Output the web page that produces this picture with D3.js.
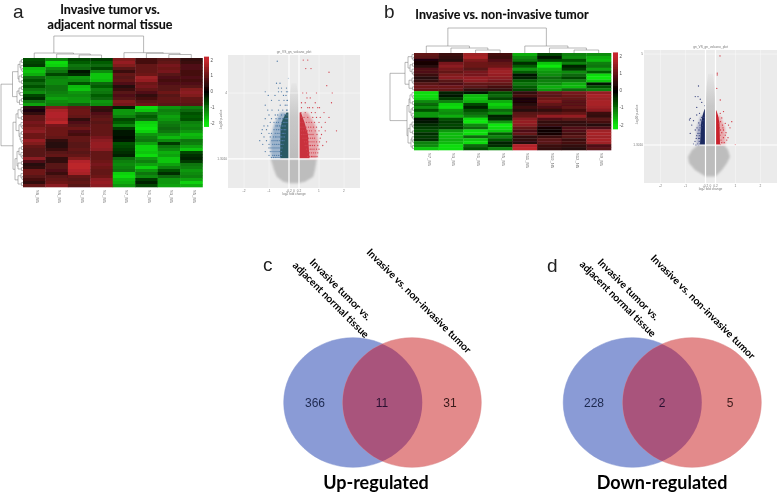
<!DOCTYPE html>
<html><head><meta charset="utf-8">
<script src="https://cdn.jsdelivr.net/npm/d3@7"></script>
<style>html,body{margin:0;padding:0;background:#fff;overflow:hidden}svg{display:block}</style>
</head><body><svg id="c" width="778" height="494"></svg>
<script>
// ---------- Data ----------
const colsA = ["S8_N5","S6_N5","S2_N5","S4_N5","S7_N5","S1_N5","S3_N5","S5_N5"];
const colsB = ["S7_N5","S3_N5","S1_N5","S5_N5","S11_N5","S10_N5","S12_N5","S9_N5"];
const heatA = [
[-0.7,-1.1,-0.6,-0.5,1.3,0.7,0.9,0.5],[-0.6,-1.9,-0.8,-0.8,1.5,0.7,1.0,0.6],[-0.5,-1.8,-1.0,-0.9,1.3,1.0,1.2,0.8],
[-1.6,-1.2,-0.9,-0.6,0.9,1.0,1.1,0.8],[-1.7,-1.0,-0.2,-1.2,0.6,1.0,1.2,0.7],[-1.5,-0.6,-0.4,-1.7,1.0,1.1,0.9,0.7],
[-0.9,-1.1,-1.3,-1.7,0.9,1.6,0.8,0.8],[-0.7,-1.2,-1.2,-1.6,1.0,1.5,0.7,0.7],[-0.9,-1.2,-0.7,-0.9,0.8,1.1,0.8,0.8],
[-0.7,-1.0,-1.6,-0.8,0.4,1.2,0.9,0.9],[-1.0,-1.0,-1.7,-1.1,0.6,1.0,0.9,1.3],[-1.2,-1.1,-1.3,-1.0,0.9,0.8,1.1,1.4],
[-0.6,-1.2,-1.2,-0.8,0.8,0.5,0.9,1.3],[-0.4,-1.4,-1.3,-0.9,0.9,0.7,1.0,1.0],[-1.0,-1.2,-1.3,-1.3,1.3,0.9,1.0,1.0],
[-1.4,-1.1,-0.9,-1.2,1.2,1.1,0.9,0.9],
[0.4,1.3,1.0,0.6,-0.3,-1.9,-1.3,-1.1],[0.3,1.7,1.1,0.5,-1.3,-1.7,-1.1,-0.9],[0.5,1.8,1.1,0.8,-1.3,-1.0,-1.2,-0.7],
[1.0,1.8,1.0,0.9,-1.1,-0.8,-1.4,-0.8],[1.0,1.7,0.5,1.0,-0.6,-0.9,-1.3,-0.7],[1.2,1.9,0.8,0.9,-0.8,-1.8,-1.1,-1.1],
[1.1,1.2,0.9,1.0,-1.1,-1.9,-1.0,-1.2],[1.3,1.1,1.1,1.0,-0.5,-2.0,-0.9,-1.1],[1.4,1.1,0.8,1.0,-0.2,-1.8,-1.0,-1.3],
[1.1,1.1,0.7,1.0,-0.2,-1.3,-1.3,-1.6],[1.1,1.0,1.0,1.2,-0.1,-1.1,-1.6,-1.5],[1.5,0.5,1.0,1.4,-0.2,-1.0,-1.2,-1.0],
[1.3,0.4,0.9,1.5,-0.7,-1.4,-0.5,-1.1],[1.0,0.4,0.9,1.5,-0.6,-1.8,-1.0,-1.4],[0.9,0.6,1.0,1.4,-0.5,-1.8,-1.2,-1.7],
[0.9,0.9,0.9,1.0,-0.4,-1.7,-1.5,-0.6],[0.9,1.0,1.0,1.0,-0.3,-1.9,-1.4,-0.4],[1.4,0.5,1.3,1.0,-0.9,-1.3,-1.7,-0.3],
[0.8,0.5,1.8,1.1,-1.1,-1.1,-1.7,-0.5],[0.4,0.9,1.9,1.2,-1.2,-1.4,-1.4,-1.0],[0.5,0.9,1.9,1.1,-1.1,-1.8,-1.1,-1.1],
[1.1,0.8,1.8,1.0,-1.0,-1.3,-0.7,-1.3],[1.1,0.6,1.7,1.0,-1.8,-1.0,-0.4,-1.2],[0.9,0.9,1.0,1.1,-1.9,-1.2,-0.9,-1.1],
[0.7,1.0,0.9,1.4,-1.6,-0.5,-1.3,-1.4],[0.5,1.1,1.0,1.5,-1.5,-0.3,-1.3,-1.8],[1.0,1.4,0.9,1.4,-1.3,-0.6,-1.4,-1.5]];
const heatB = [
[1.0,0.6,1.6,0.7,-1.5,-0.6,-1.1,-1.2],[0.9,0.5,1.7,0.6,-1.2,-0.2,-1.2,-1.5],[0.3,0.4,1.3,0.8,-1.0,-0.6,-0.7,-1.6],
[0.2,1.2,1.1,1.0,-0.4,-1.7,-1.1,-1.1],[0.4,1.4,1.1,1.1,-0.8,-2.0,-0.3,-1.0],[0.8,1.2,0.9,1.5,-1.3,-1.5,-0.5,-1.4],
[0.8,1.0,1.2,1.6,-0.8,-1.3,-1.2,-0.8],[0.6,1.3,1.2,1.5,-0.2,-1.2,-0.9,-1.9],[0.4,1.4,1.5,1.4,-0.3,-0.9,-0.6,-2.0],
[0.5,0.9,1.4,1.2,-0.8,-1.1,-1.1,-1.7],[0.9,0.8,1.0,1.0,-1.0,-1.2,-1.5,-0.2],[1.1,1.1,0.9,0.7,-0.8,-1.5,-1.6,-0.7],
[1.0,1.0,0.5,0.5,-0.6,-1.3,-0.9,-1.1],
[-1.9,-0.3,-0.2,-0.7,0.5,1.0,1.2,1.5],[-1.9,-0.2,-1.6,-0.9,0.7,0.9,1.1,1.7],[-1.8,-0.5,-1.7,-0.6,0.3,1.1,1.0,1.6],
[-1.2,-1.1,-1.5,-1.5,0.3,1.3,0.9,1.7],[-0.9,-1.8,-0.6,-1.8,0.4,1.0,0.9,1.7],[-1.2,-1.9,-0.3,-1.6,0.6,0.8,1.0,1.6],
[-0.7,-1.3,-0.7,-0.9,0.4,0.5,0.7,1.4],[-1.3,-1.2,-0.9,-1.2,0.9,0.9,1.0,0.6],[-1.3,-1.5,-1.1,-0.3,1.0,1.5,1.5,0.5],
[-0.1,-0.7,-1.9,-0.4,1.4,0.8,0.9,0.9],[-0.2,-0.5,-2.0,-1.3,1.5,0.5,0.5,0.7],[-0.4,-0.6,-1.2,-2.0,1.4,0.6,0.5,0.4],
[-0.5,-0.5,-0.9,-1.9,1.0,0.2,0.8,0.8],[-0.7,-1.3,-1.9,-1.7,0.8,0.1,0.8,1.6],[-0.4,-1.6,-1.9,-0.8,1.0,0.2,0.7,1.7],
[-0.5,-1.6,-0.9,-1.1,0.5,0.6,0.9,1.6],[-0.4,-1.5,-1.7,-0.7,0.5,0.9,0.6,1.7],[-1.1,-1.6,-1.9,-0.3,0.4,0.9,0.7,1.6],
[-1.2,-1.9,-0.9,-0.4,1.8,0.6,0.5,0.8],[-1.7,-1.9,-0.7,-1.1,1.9,0.5,0.4,0.9]];
const colorTicks = [2,1,0,-1,-2];
// dendrograms: [height, left, right]; 0 is a leaf, taken in display order
const P2 = [1.5,0,0], P3 = [2,0,[1,0,0]];
const colTreeA = [22,[5,0,[4,0,[3,0,0]]],[5.3,0,[4.7,0,[3.5,0,0]]]];
const colTreeB = [25,[7,0,[5,0,[3,0,0]]],[7,0,[5,0,[3,0,0]]]];
const rowTreeA = [22,
  [10.5,[5,[3,P2,[2,0,[1,0,0]]],[4,P2,P2]],[6,[4,P2,[3,0,0]],[3.5,P2,0]]],
  [10,[7,[5,P3,P2],[4,P3,[3,P2,P3]]],[8,[6,[4,P2,P3],[5,P2,P2]],[5,P3,P2]]]];
const rowTreeB = [24,
  [9,[6,P3,[4,P2,P3]],[5,P3,P2]],
  [7,[5,[4,P3,P2],[3,P2,P3]],[6,[4,P3,P2],[3,P3,P2]]]];
// volcano A: [-log10 p, x0, x1] envelopes
const greyLowA = [[0.3,-0.15,0.15],[0.37,-0.43,0.44],[0.57,-0.69,0.77],[0.85,-0.8,0.84],[1.3,-0.93,0.91]];
const greyTopA = [[1.3,-0.2,0.2],[3.0,-0.2,0.2],[3.9,-0.17,0.17],[4.4,-0.1,0.1]];
const denseDownA = [[1.3,-0.56,-0.2],[2.6,-0.54,-0.2],[2.9,-0.46,-0.2],[3.2,-0.3,-0.2]];
const denseUpA = [[1.3,0.62,0.2],[2.3,0.56,0.2],[2.8,0.42,0.2],[3.2,0.28,0.2]];
const haloDownA = [[1.3,-0.9,-0.5],[2.0,-0.95,-0.5],[2.7,-0.8,-0.4],[3.2,-0.55,-0.3]];
const haloUpA = [[1.3,0.92,0.5],[2.0,0.98,0.5],[2.7,0.85,0.4],[3.2,0.55,0.3]];
const downA = [[5.3,[-0.67]],[4.6,[-0.22]],[4.4,[-0.7,-0.56]],[4.2,[-0.62,-0.5,-0.3]],[4.05,[-1.15,-0.62,-0.5,-0.3,-0.25]],
[3.9,[-1.03,-0.76,-0.42,-0.32]],[3.7,[-0.9,-0.6,-0.4,-0.28,-0.26]],[3.5,[-1.15,-0.55,-0.35,-0.28]],[3.3,[-1.05,-0.88,-0.62,-0.45,-0.3,-0.27]],
[3.1,[-1.0,-0.75,-0.65,-0.5,-0.38,-0.28]],[2.95,[-1.15,-0.9,-0.72,-0.6,-0.55,-0.45,-0.35,-0.3,-0.26]],[2.8,[-0.95,-0.8,-0.7,-0.62,-0.5,-0.42,-0.37,-0.32,-0.28]],
[2.65,[-1.2,-1.05,-0.72,-0.66,-0.58,-0.52,-0.46,-0.4,-0.35]],[2.5,[-1.27,-1.1,-0.8,-0.7,-0.62,-0.55,-0.5,-0.44,-0.38,-0.33]],
[2.35,[-1.3,-1.0,-0.9,-0.75,-0.67,-0.6,-0.54,-0.47,-0.42,-0.36]],[2.2,[-1.2,-0.95,-0.82,-0.74,-0.68,-0.6,-0.55,-0.5,-0.44,-0.38]],
[2.05,[-1.37,-1.1,-0.88,-0.8,-0.72,-0.65,-0.57,-0.52,-0.46,-0.4]],[1.9,[-1.25,-1.0,-0.85,-0.77,-0.7,-0.63,-0.56,-0.5,-0.44]],
[1.75,[-1.0,-0.92,-0.84,-0.76,-0.68,-0.6,-0.54,-0.48]],[1.6,[-1.15,-0.95,-0.88,-0.8,-0.72,-0.64,-0.57,-0.5]],
[1.45,[-1.0,-0.85,-0.78,-0.7,-0.62,-0.55,-0.5]],[1.35,[-0.9,-0.82,-0.75,-0.68,-0.6,-0.54]]];
const upA = [[5.35,[0.37,0.55]],[5.0,[0.47,0.68]],[4.85,[1.4]],[4.3,[1.31]],[4.0,[0.35,0.5,0.9,1.53]],[3.8,[0.52,0.65]],[3.6,[0.3,0.45,0.85,1.5]],
[3.4,[0.3,0.55,0.62,0.75,0.95,1.02]],[3.2,[0.28,0.45,0.7,0.85,1.2]],[3.0,[0.3,0.4,0.55,0.75,0.9,1.05,1.4]],[2.8,[0.27,0.35,0.5,0.6,0.7,0.82,1.0,1.25]],
[2.6,[0.26,0.32,0.4,0.48,0.58,0.67,0.78,0.9,1.1]],[2.45,[0.3,0.38,0.46,0.54,0.62,0.7,0.85,1.0,1.25,1.7]],[2.3,[0.3,0.37,0.44,0.52,0.6,0.68,0.76,0.92,1.1]],
[2.15,[0.36,0.44,0.5,0.58,0.66,0.74,0.82,1.05]],[2.0,[0.42,0.5,0.58,0.64,0.72,0.8,0.9,1.02,1.3]],[1.85,[0.45,0.52,0.6,0.66,0.74,0.82,0.95,1.15]],
[1.7,[0.5,0.58,0.65,0.72,0.8,0.9,1.0]],[1.55,[0.55,0.62,0.7,0.78,0.86,0.95]],[1.4,[0.55,0.62,0.7,0.76,0.84,0.92]]];
// volcano B
const greyLowB = [[0.02,-0.2,0.2],[0.28,-0.62,0.46],[0.57,-0.86,0.66],[0.82,-0.9,0.78],[1.1,-0.74,0.7],[1.3,-0.5,0.55]];
const greyTopB = [[1.3,-0.2,0.2],[2.85,-0.2,0.2],[3.66,-0.16,0.16],[4.2,-0.1,0.1]];
const denseDownB = [[1.3,-0.42,-0.2],[2.2,-0.38,-0.2],[2.5,-0.32,-0.2],[2.75,-0.24,-0.2]];
const denseUpB = [[1.3,0.38,0.2],[2.2,0.36,0.2],[2.5,0.3,0.2],[2.7,0.24,0.2]];
const haloDownB = [[1.3,-0.55,-0.4],[2.0,-0.55,-0.35],[2.5,-0.38,-0.3]];
const haloUpB = [[1.3,0.6,0.35],[2.0,0.58,0.33],[2.5,0.38,0.28]];
const downB = [[3.7,[-0.48]],[3.27,[-0.61,-0.5]],[3.16,[-0.41]],[3.03,[-0.35]],[2.9,[-0.22]],[2.83,[-0.55]],[2.59,[-0.28,-0.44]],[2.52,[-0.55]],[2.42,[-0.35,-0.27]],
[2.38,[-0.81]],[2.32,[-0.84,-0.4]],[2.29,[-0.68,-0.3]],[2.2,[-0.47,-0.36]],[2.11,[-0.75,-0.42,-0.32]],[2.0,[-0.54,-0.42,-0.35]],[1.91,[-0.61,-0.46]],
[1.77,[-0.81,-0.5,-0.42]],[1.68,[-0.55,-0.45]],[1.57,[-0.57,-0.47,-0.43]],[1.45,[-0.62,-0.45]],[1.34,[-0.68,-0.52,-0.44]],[1.3,[-0.6,-0.55,-0.47]]];
const upB = [[4.92,[0.38]],[4.22,[0.27]],[4.15,[0.27]],[3.6,[0.25]],[3.13,[0.39]],[2.66,[0.52]],[2.59,[0.39]],[2.4,[0.3,0.45]],[2.25,[0.85,0.4]],[2.18,[0.59,0.32]],
[2.11,[0.72,0.48]],[2.0,[0.78,0.36,0.5]],[1.91,[0.52,0.4]],[1.8,[0.45,0.62]],[1.7,[0.59,0.38]],[1.6,[0.52,0.7]],[1.5,[0.65,0.42]],[1.4,[0.45,0.55]],[1.32,[0.4,0.99]]];
const volcanoXTicks = [-2,-1,-0.2,0,0.2,1,2];
const majorXTicks = [-2,-1,1,2];
// Venn
const vennSets = ["Invasive tumor vs.","adjacent normal tissue","Invasive vs. non-invasive tumor"];
const vennC = [366,11,31];
const vennD = [228,2,5];

// ---------- Drawing ----------
const svg = d3.select("#c");
const defs = svg.append("defs");
function blur(id,s){ defs.append("filter").attr("id",id).attr("x","-20%").attr("y","-20%").attr("width","140%").attr("height","140%")
  .append("feGaussianBlur").attr("stdDeviation",s); }
blur("soft",0.55); blur("softer",0.35); blur("fuzz",0.9);
const fade = defs.append("linearGradient").attr("id","fade").attr("x1",0).attr("y1",1).attr("x2",0).attr("y2",0);
fade.append("stop").attr("offset",0).attr("stop-color","#bcbcbc");
fade.append("stop").attr("offset",0.55).attr("stop-color","#c8c8c8");
fade.append("stop").attr("offset",1).attr("stop-color","#e6e6e6");
const SANS = "'Liberation Sans',Arial,sans-serif", LATO = "Lato,'Open Sans',sans-serif";
const heatColor = d3.scaleLinear().domain([-2,0,2]).range(["#10e810","#000000","#c6282e"]).clamp(true);

function dendro(g, tree, leafPos, hScale, vertical){
  let idx = 0; const p = d3.path();
  (function walk(n){
    if(n===0) return {pos:leafPos(idx++), h:0};
    const a = walk(n[1]), b = walk(n[2]), H = hScale(n[0]);
    if(vertical){ p.moveTo(a.pos,hScale(a.h)); p.lineTo(a.pos,H); p.lineTo(b.pos,H); p.lineTo(b.pos,hScale(b.h)); }
    else { p.moveTo(hScale(a.h),a.pos); p.lineTo(H,a.pos); p.lineTo(H,b.pos); p.lineTo(hScale(b.h),b.pos); }
    return {pos:(a.pos+b.pos)/2, h:n[0]};
  })(tree);
  g.append("path").attr("d",p.toString()).attr("fill","none").attr("stroke","#7d7d7d").attr("stroke-width",0.55);
}

function heatmap(o){
  const g = svg.append("g").attr("filter","url(#soft)");
  const x = d3.scaleBand().domain(o.cols).range([o.x0,o.x1]);
  const y = d3.scaleBand().domain(d3.range(o.data.length)).range([o.y0,o.y1]);
  o.data.forEach((row,r)=>{
    g.selectAll(null).data(row).join("rect")
      .attr("x",(d,i)=>x(o.cols[i])).attr("y",y(r))
      .attr("width",x.bandwidth()+0.3).attr("height",y.bandwidth()+0.3)
      .attr("fill",d=>heatColor(d));
  });
  dendro(g,o.colTree,i=>x(o.cols[i])+x.bandwidth()/2,d3.scaleLinear().domain([0,1]).range([o.y0,o.y0-1]),true);
  dendro(g,o.rowTree,i=>y(i)+y.bandwidth()/2,d3.scaleLinear().domain([0,1]).range([o.x0,o.x0-1]),false);
  const cy = d3.scaleLinear().domain([2,-2]).range([o.barY0,o.barY1]);
  const nb = d3.range(-2.15,2.151,0.1);
  g.selectAll(null).data(nb).join("rect").attr("x",o.barX).attr("width",5)
    .attr("y",d=>cy(d)-1).attr("height",(cy(-2)-cy(2))/40+1).attr("fill",d=>heatColor(d));
  const t = svg.append("g").attr("filter","url(#softer)").attr("font-family",SANS).attr("fill","#555");
  t.selectAll(null).data(colorTicks).join("text").attr("x",o.barX+6.5).attr("y",d=>cy(d)+1.6)
    .attr("font-size",4.5).text(d=>d);
  t.selectAll(null).data(o.cols).join("text")
    .attr("transform",c=>`translate(${x(c)+x.bandwidth()/2+1.5},${o.y1+3}) rotate(90)`)
    .attr("font-size",4.2).attr("fill","#777").text(c=>c);
}
heatmap({cols:colsA,data:heatA,colTree:colTreeA,rowTree:rowTreeA,x0:23,x1:202.5,y0:58,y1:187,barX:204,barY0:60,barY1:123});
heatmap({cols:colsB,data:heatB,colTree:colTreeB,rowTree:rowTreeB,x0:414,x1:611,y0:53,y1:150,barX:613,barY0:56,barY1:125});

function volcano(o){
  const x = d3.scaleLinear().domain([-1,1]).range([o.cx-25,o.cx+25]);
  const y = d3.scaleLinear().domain(o.yDom).range(o.yRange);
  const g = svg.append("g").attr("filter","url(#softer)");
  g.append("rect").attr("x",o.x0).attr("y",o.y0).attr("width",o.x1-o.x0).attr("height",o.y1-o.y0).attr("fill","#ebebeb");
  g.selectAll(null).data(majorXTicks).join("line").attr("x1",d=>x(d)).attr("x2",d=>x(d)).attr("y1",o.y0).attr("y2",o.y1)
    .attr("stroke","#f7f7f7").attr("stroke-width",0.6);
  const area = d3.area().y(d=>y(d[0])).x0(d=>x(d[1])).x1(d=>x(d[2]));
  g.append("path").attr("d",area(o.greyLow)).attr("fill","#bdbdbd").attr("filter","url(#fuzz)");
  g.append("path").attr("d",area(o.greyTop)).attr("fill","url(#fade)");
  g.append("path").attr("d",area(o.haloDown)).attr("fill",o.haloDownColor).attr("filter","url(#fuzz)");
  g.append("path").attr("d",area(o.haloUp)).attr("fill",o.haloUpColor).attr("filter","url(#fuzz)");
  g.append("path").attr("d",area(o.denseDown)).attr("fill",o.downDark);
  g.append("path").attr("d",area(o.denseUp)).attr("fill",o.upDark);
  [[o.down,o.downColor],[o.up,o.upColor]].forEach(([rows,c])=>{
    rows.forEach(([ly,xs])=>{
      g.selectAll(null).data(xs).join("circle").attr("cx",d=>x(d)).attr("cy",y(ly)).attr("r",0.65).attr("fill",c);
    });
  });
  g.append("line").attr("x1",o.x0).attr("x2",o.x1).attr("y1",y(o.hMajor)).attr("y2",y(o.hMajor)).attr("stroke","#fafafa").attr("stroke-width",0.6);
  g.append("line").attr("x1",o.x0).attr("x2",o.x1).attr("y1",y(1.301)).attr("y2",y(1.301)).attr("stroke","#fff").attr("stroke-width",1.2);
  [-0.2,0.2].forEach(v=>g.append("line").attr("x1",x(v)).attr("x2",x(v)).attr("y1",o.y0).attr("y2",o.y1).attr("stroke","#fff").attr("stroke-width",1.2));
  const t = svg.append("g").attr("filter","url(#softer)").attr("font-family",SANS).attr("fill","#777").attr("font-size",3.2);
  t.append("text").attr("x",o.cx).attr("y",o.y0-2).attr("text-anchor","middle").text(o.title);
  t.selectAll(null).data(volcanoXTicks).join("text").attr("x",d=>x(d)).attr("y",o.y1+3.5).attr("text-anchor","middle").text(d=>d);
  t.append("text").attr("x",o.cx).attr("y",o.y1+7).attr("text-anchor","middle").text("log2 fold change");
  t.append("text").attr("transform",`translate(${o.x0-6.5},${(o.y0+o.y1)/2-2}) rotate(-90)`).attr("text-anchor","middle").text("-log10 p-value");
  t.append("text").attr("x",o.x0-1).attr("y",y(1.301)+1).attr("text-anchor","end").text("1.3010");
  t.append("text").attr("x",o.x0-1).attr("y",y(o.hMajor)+1).attr("text-anchor","end").text(o.hMajor);
}
volcano({cx:294,x0:228,x1:360,y0:55,y1:188,yDom:[0,4],yRange:[190.7,93],hMajor:4,title:"gn_VS_gn_volcano_plot",
  greyLow:greyLowA,greyTop:greyTopA,denseDown:denseDownA,denseUp:denseUpA,haloDown:haloDownA,haloUp:haloUpA,down:downA,up:upA,
  downDark:"#2b5a63",upDark:"#c9323e",downColor:"#4f7aa6",upColor:"#d2434f",haloDownColor:"#9db4cc",haloUpColor:"#e6a3a8"});
volcano({cx:710.5,x0:644,x1:777,y0:50,y1:183,yDom:[0,5],yRange:[177,54],hMajor:5,title:"gn_VS_gn_volcano_plot",
  greyLow:greyLowB,greyTop:greyTopB,denseDown:denseDownB,denseUp:denseUpB,haloDown:haloDownB,haloUp:haloUpB,down:downB,up:upB,
  downDark:"#1d2a60",upDark:"#c8202c",downColor:"#3a4580",upColor:"#d2303c",haloDownColor:"#a9adc8",haloUpColor:"#e8a8ac"});

function venn(o){
  const g = svg.append("g");
  const id = "clip"+o.name;
  defs.append("clipPath").attr("id",id).append("ellipse").attr("cx",o.cxL).attr("cy",402.5).attr("rx",69.3).attr("ry",64.8);
  const e = (cx,f)=>g.append("ellipse").attr("cx",cx).attr("cy",402.5).attr("rx",69.3).attr("ry",64.8).attr("fill",f);
  e(o.cxL,"#8a9bd6").attr("stroke","#8192cf").attr("stroke-width",0.5);
  e(o.cxR,"#e38a8b").attr("stroke","#d97f81").attr("stroke-width",0.5);
  e(o.cxR,"#a9547c").attr("clip-path",`url(#${id})`);
  const nx = [o.nL,o.nM,o.nR];
  const tg = g.append("g").attr("filter","url(#softer)");
  tg.selectAll(null).data(o.values).join("text").attr("x",(d,i)=>nx[i]).attr("y",406.5).attr("text-anchor","middle")
    .attr("font-family",SANS).attr("font-size",12).attr("fill",(d,i)=>["#1f2a50","#2a1030","#3a1a1a"][i]).text(d=>d);
  tg.append("text").attr("x",o.capX).attr("y",489).attr("text-anchor","middle").attr("font-family",LATO).attr("font-weight",700)
    .attr("font-size",18).attr("fill","#000").text(o.caption);
  o.labels.forEach(([text,x,y])=>{
    tg.append("text").attr("transform",`translate(${x},${y}) rotate(45)`).attr("font-family",LATO).attr("font-weight",700)
      .attr("font-size",10.3).attr("fill","#000").text(text);
  });
}
venn({name:"C",cxL:353,cxR:412,values:vennC,nL:315,nM:382,nR:450,capX:376,caption:"Up-regulated",
  labels:[[vennSets[0],309,263],[vennSets[1],292,266],[vennSets[2],366,253]]});
venn({name:"D",cxL:632.5,cxR:692,values:vennD,nL:594,nM:662,nR:730,capX:662,caption:"Down-regulated",
  labels:[[vennSets[0],597,263],[vennSets[1],579,265],[vennSets[2],650,259]]});

// titles and panel letters
const titleG = svg.append("g").attr("filter","url(#softer)");
const titles = [["Invasive tumor vs.",110,14],["adjacent normal tissue",110,29],["Invasive vs. non-invasive tumor",502,19]];
titleG.selectAll(null).data(titles).join("text").attr("x",d=>d[1]).attr("y",d=>d[2]).attr("font-size",12.5)
  .attr("text-anchor","middle").attr("font-family",LATO).attr("font-weight",700).attr("fill","#111").attr("stroke","#111").attr("stroke-width",0.15).text(d=>d[0]);
const letters = [["a",13,17.5],["b",384,17.5],["c",263,271],["d",547,272]];
svg.selectAll(null).data(letters).join("text").attr("x",d=>d[1]).attr("y",d=>d[2]).attr("font-size",19)
  .attr("font-family",SANS).attr("fill","#222").text(d=>d[0]);
</script></body></html>
